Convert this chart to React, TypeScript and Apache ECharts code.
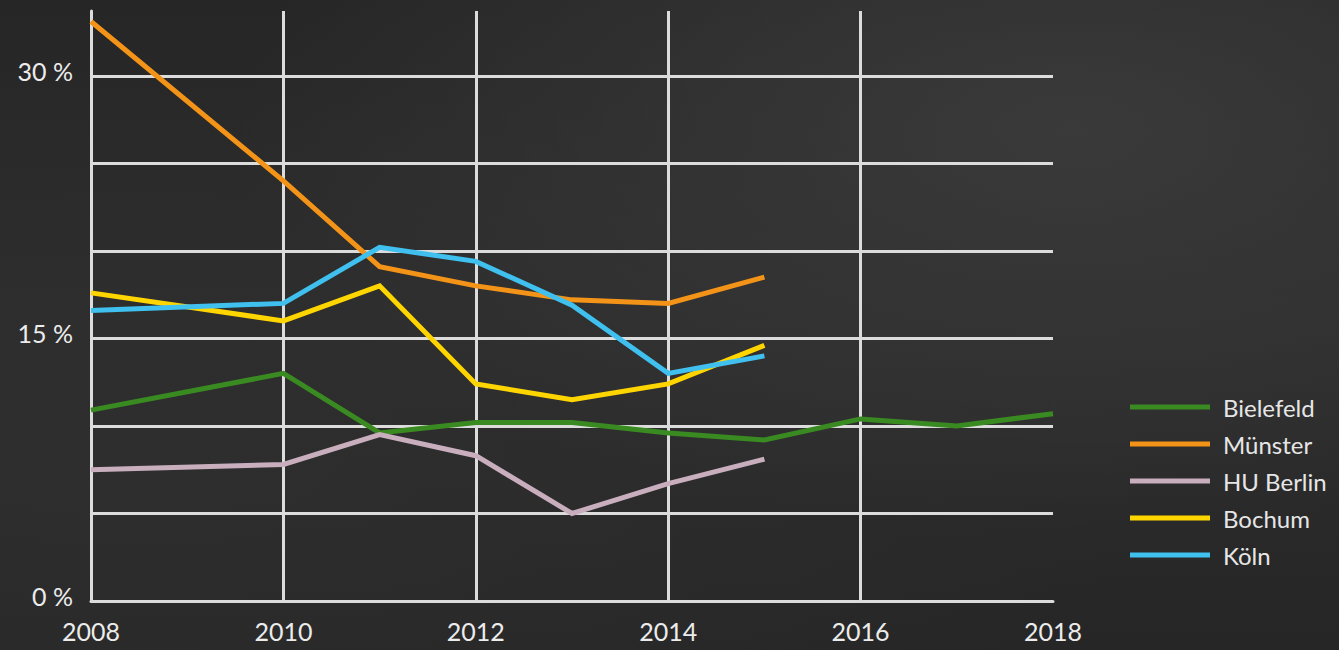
import React, { useEffect, useRef } from "react";
import * as echarts from "echarts";

const years = [2008, 2010, 2011, 2012, 2013, 2014, 2015, 2016, 2017, 2018];
const bielefeld = [10.9, 13.0, 9.6, 10.2, 10.2, 9.6, 9.2, 10.4, 10.0, 10.7];
const muenster = [33.1, 24.0, 19.1, 18.0, 17.2, 17.0, 18.5, null, null, null];
const huBerlin = [7.5, 7.8, 9.5, 8.3, 5.0, 6.7, 8.1, null, null, null];
const bochum = [17.6, 16.0, 18.0, 12.4, 11.5, 12.4, 14.6, null, null, null];
const koeln = [16.6, 17.0, 20.2, 19.4, 16.9, 13.0, 14.0, null, null, null];
const seriesNames = ["Bielefeld", "Münster", "HU Berlin", "Bochum", "Köln"];
const seriesColors = ["#3a8a22", "#f39419", "#c9aebd", "#ffd500", "#3fc0ee"];
const yLabelValues = [0, 15, 30];

export default function App() {
  const ref = useRef<HTMLDivElement>(null);
  useEffect(() => {
    if (!ref.current) return;
    const chart = echarts.init(ref.current, null, { renderer: "svg" });
    const all = [bielefeld, muenster, huBerlin, bochum, koeln];
    const gridColor = "#dcdcdc";
    const font = "Lato, 'Open Sans', sans-serif";
    chart.setOption({
      animation: false,
      backgroundColor: "transparent",
      grid: { left: 91, right: 286, top: 11, bottom: 49, containLabel: false },
      xAxis: {
        type: "value",
        min: 2008,
        max: 2018,
        interval: 2,
        axisLine: { show: true, lineStyle: { color: gridColor, width: 3 } },
        axisTick: { show: false },
        axisLabel: {
          color: "#ececec",
          fontSize: 25,
          fontFamily: font,
          margin: 17,
          formatter: (v: number) => String(v),
        },
        splitLine: {
          show: true,
          showMinLine: false,
          showMaxLine: false,
          lineStyle: { color: gridColor, width: 3 },
        },
      },
      yAxis: {
        type: "value",
        min: 0,
        max: 33.7,
        interval: 5,
        axisLine: { show: true, lineStyle: { color: gridColor, width: 3 } },
        axisTick: { show: false },
        axisLabel: {
          color: "#ececec",
          fontSize: 25,
          fontFamily: font,
          margin: 18,
          verticalAlign: "bottom",
          lineHeight: 10,
          formatter: (v: number) => (yLabelValues.includes(v) ? `${v} %` : ""),
        },
        splitLine: {
          show: true,
          showMinLine: false,
          showMaxLine: false,
          lineStyle: { color: gridColor, width: 3 },
        },
      },
      legend: {
        orient: "vertical",
        left: 1125,
        top: 389,
        itemWidth: 80,
        itemHeight: 5,
        itemGap: 11,
        icon: "rect",
        textStyle: {
          color: "#e6e6e6",
          fontSize: 24,
          fontFamily: font,
          lineHeight: 26,
          padding: [0, 0, 0, 8],
        },
        data: seriesNames,
      },
      series: seriesNames.map((name, i) => ({
        name,
        type: "line",
        data: years
          .map((y, j) => [y, all[i][j]])
          .filter((d) => d[1] !== null),
        showSymbol: false,
        symbol: "none",
        lineStyle: { color: seriesColors[i], width: 5, cap: "butt", join: "miter" },
        itemStyle: { color: seriesColors[i] },
        z: 3,
      })),
    });
    return () => chart.dispose();
  }, []);
  return (
    <div
      style={{
        position: "fixed",
        left: 0,
        top: 0,
        width: 1339,
        height: 650,
        background:
          "radial-gradient(ellipse at 80% 20%, #3a3a3a 0%, rgba(58,58,58,0) 55%), radial-gradient(ellipse at 10% 70%, #2e2e2e 0%, rgba(40,40,40,0) 60%), linear-gradient(180deg, #262626 0%, #2d2d2d 50%, #262626 100%)",
      }}
    >
      <div ref={ref} style={{ width: 1339, height: 650 }} />
    </div>
  );
}
